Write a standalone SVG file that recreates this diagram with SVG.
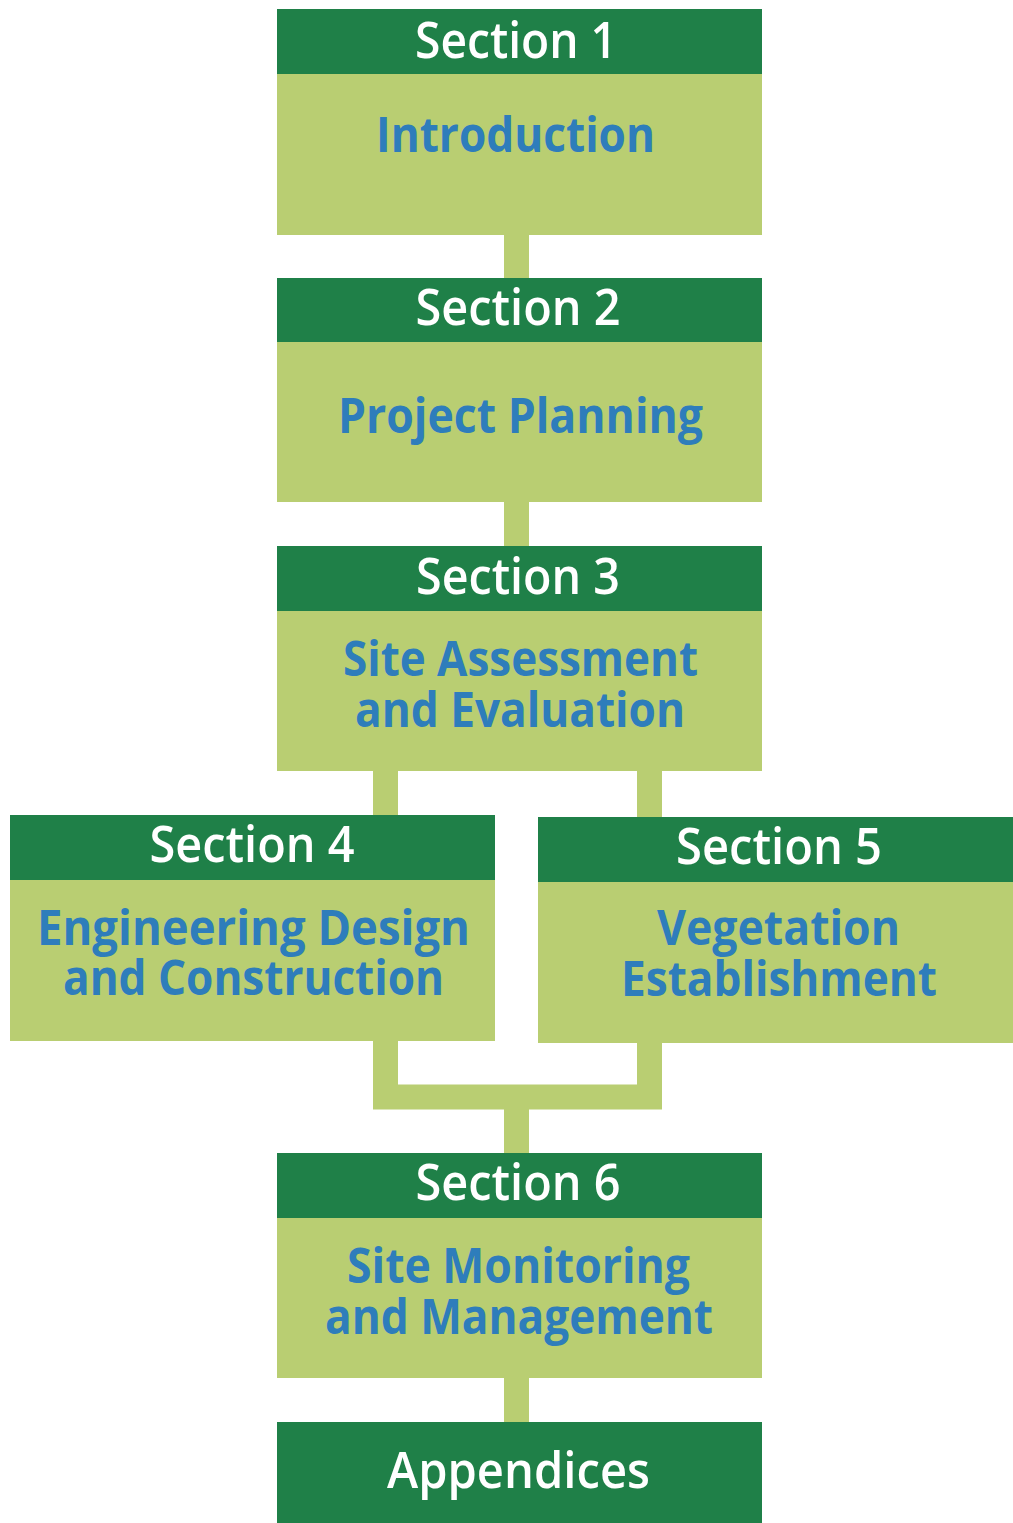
<svg xmlns="http://www.w3.org/2000/svg" width="1013" height="1523" viewBox="0 0 1013 1523">
<style>
.hd{fill:#1F8048}
.bd{fill:#B9CE72}
.con{stroke:#B9CE72;stroke-width:25;fill:none;stroke-linejoin:miter}
.st{font-family:"Open Sans","Liberation Sans",sans-serif;font-weight:600;font-size:50px;fill:#FFFFFF;text-anchor:middle}
.tt{font-family:"Open Sans","Liberation Sans",sans-serif;font-weight:700;font-size:48px;fill:#2E7DBB;text-anchor:middle}
</style>
<rect width="1013" height="1523" fill="#FFFFFF"/>
<g id="connectors">
<path class="con" d="M516.5 235V278"/>
<path class="con" d="M516.5 502V546"/>
<path class="con" d="M385.5 771V815"/>
<path class="con" d="M649.5 771V817"/>
<path class="con" d="M385.5 1041V1097H649.5V1043"/>
<path class="con" d="M516.5 1097V1153"/>
<path class="con" d="M516.5 1378V1422"/>
</g>
<g id="section1">
<rect class="hd" x="277" y="9" width="485" height="65"/>
<rect class="bd" x="277" y="74" width="485" height="161"/>
<text class="st" x="516" y="58" textLength="202" lengthAdjust="spacingAndGlyphs">Section 1</text>
<text class="tt" x="515.5" y="152" textLength="279" lengthAdjust="spacingAndGlyphs">Introduction</text>
</g>
<g id="section2">
<rect class="hd" x="277" y="278" width="485" height="64"/>
<rect class="bd" x="277" y="342" width="485" height="160"/>
<text class="st" x="518" y="325" textLength="205" lengthAdjust="spacingAndGlyphs">Section 2</text>
<text class="tt" x="520.5" y="433" textLength="365" lengthAdjust="spacingAndGlyphs">Project Planning</text>
</g>
<g id="section3">
<rect class="hd" x="277" y="546" width="485" height="65"/>
<rect class="bd" x="277" y="611" width="485" height="160"/>
<text class="st" x="518" y="594" textLength="204" lengthAdjust="spacingAndGlyphs">Section 3</text>
<text class="tt" x="520.5" y="676" textLength="355" lengthAdjust="spacingAndGlyphs">Site Assessment</text>
<text class="tt" x="520" y="727" textLength="330" lengthAdjust="spacingAndGlyphs">and Evaluation</text>
</g>
<g id="section4">
<rect class="hd" x="10" y="815" width="485" height="65"/>
<rect class="bd" x="10" y="880" width="485" height="161"/>
<text class="st" x="252" y="862" textLength="205" lengthAdjust="spacingAndGlyphs">Section 4</text>
<text class="tt" x="253.5" y="945" textLength="433" lengthAdjust="spacingAndGlyphs">Engineering Design</text>
<text class="tt" x="253.5" y="995" textLength="381" lengthAdjust="spacingAndGlyphs">and Construction</text>
</g>
<g id="section5">
<rect class="hd" x="538" y="817" width="475" height="65"/>
<rect class="bd" x="538" y="882" width="475" height="161"/>
<text class="st" x="779" y="864" textLength="206" lengthAdjust="spacingAndGlyphs">Section 5</text>
<text class="tt" x="778.5" y="945" textLength="243" lengthAdjust="spacingAndGlyphs">Vegetation</text>
<text class="tt" x="779" y="996" textLength="316" lengthAdjust="spacingAndGlyphs">Establishment</text>
</g>
<g id="section6">
<rect class="hd" x="277" y="1153" width="485" height="65"/>
<rect class="bd" x="277" y="1218" width="485" height="160"/>
<text class="st" x="518" y="1200" textLength="205" lengthAdjust="spacingAndGlyphs">Section 6</text>
<text class="tt" x="518.5" y="1283" textLength="343" lengthAdjust="spacingAndGlyphs">Site Monitoring</text>
<text class="tt" x="519" y="1334" textLength="388" lengthAdjust="spacingAndGlyphs">and Management</text>
</g>
<g id="appendices">
<rect class="hd" x="277" y="1422" width="485" height="101"/>
<text class="st" x="518.5" y="1488" textLength="263" lengthAdjust="spacingAndGlyphs">Appendices</text>
</g>
</svg>
